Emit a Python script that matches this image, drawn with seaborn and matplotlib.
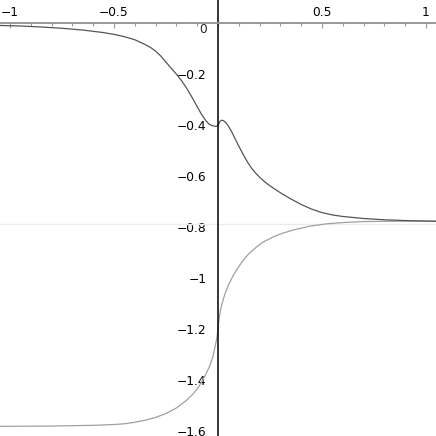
import matplotlib
matplotlib.use("Agg")
import matplotlib.pyplot as plt
import matplotlib.ticker as mticker
import seaborn as sns
import pandas as pd

# values
upper_x = [-1.048, -0.95, -0.85, -0.75, -0.65, -0.55, -0.5, -0.45, -0.4, -0.35,
           -0.325, -0.3, -0.275, -0.25, -0.225, -0.2, -0.175, -0.15, -0.125, -0.1,
           -0.08, -0.06, -0.045, -0.03, -0.015, -0.005, 0.0, 0.005, 0.01, 0.018,
           0.027, 0.038, 0.05, 0.065, 0.08, 0.1, 0.12, 0.14, 0.16, 0.18, 0.2,
           0.225, 0.25, 0.3, 0.35, 0.4, 0.45, 0.5, 0.55, 0.6, 0.7, 0.8, 0.9, 1.048]
upper_y = [-0.008, -0.010, -0.014, -0.019, -0.026, -0.036, -0.043, -0.052, -0.064,
           -0.083, -0.094, -0.109, -0.128, -0.152, -0.176, -0.199, -0.225, -0.255,
           -0.290, -0.327, -0.356, -0.380, -0.394, -0.401, -0.404, -0.404, -0.400,
           -0.392, -0.384, -0.380, -0.382, -0.390, -0.403, -0.424, -0.449, -0.482,
           -0.513, -0.542, -0.567, -0.587, -0.604, -0.622, -0.638, -0.665, -0.689,
           -0.711, -0.729, -0.743, -0.752, -0.758, -0.766, -0.771, -0.774, -0.777]

lower_x = [-1.048, -0.8, -0.6, -0.5, -0.45, -0.4, -0.35, -0.3, -0.25, -0.2, -0.15,
           -0.12, -0.1, -0.08, -0.06, -0.04, -0.025, -0.012, -0.004, 0.0, 0.005,
           0.012, 0.02, 0.034, 0.05, 0.074, 0.1, 0.122, 0.15, 0.186, 0.22, 0.266,
           0.31, 0.362, 0.442, 0.52, 0.6, 0.7, 0.8, 1.048]
lower_y = [-1.582, -1.581, -1.578, -1.575, -1.572, -1.566, -1.558, -1.547, -1.532,
           -1.510, -1.479, -1.455, -1.435, -1.410, -1.380, -1.345, -1.310, -1.262,
           -1.228, -1.195, -1.163, -1.125, -1.098, -1.060, -1.028, -0.988, -0.955,
           -0.929, -0.903, -0.877, -0.857, -0.838, -0.824, -0.811, -0.796, -0.787,
           -0.782, -0.778, -0.777, -0.776]

asymptote = -0.787

x_ticks = [-1, -0.5, 0.5, 1]
x_labels = ["\u22121", "\u22120.5", "0.5", "1"]
y_ticks = [-0.2, -0.4, -0.6, -0.8, -1, -1.2, -1.4, -1.6]
y_labels = ["\u22120.2", "\u22120.4", "\u22120.6", "\u22120.8", "\u22121",
            "\u22121.2", "\u22121.4", "\u22121.6"]

upper = pd.DataFrame({"x": upper_x, "y": upper_y})
lower = pd.DataFrame({"x": lower_x, "y": lower_y})

sns.set_style("white")
plt.rcParams["font.family"] = ["DejaVu Sans"]

fig = plt.figure(figsize=(4.36, 4.36), dpi=100)
ax = fig.add_axes([0, 0, 1, 1])

ax.axhline(asymptote, color="#ececec", lw=1.0, zorder=1)
sns.lineplot(data=lower, x="x", y="y", sort=False, color="#a0a0a0", lw=0.9, ax=ax)
sns.lineplot(data=upper, x="x", y="y", sort=False, color="#555555", lw=0.9, ax=ax)

ax.set_xlim(-1.048, 1.048)
ax.set_ylim(-1.62, 0.092)
ax.set_xlabel("")
ax.set_ylabel("")

# axes crossing at the origin
for side in ["bottom", "right"]:
    ax.spines[side].set_visible(False)
ax.spines["left"].set_position(("data", 0))
ax.spines["top"].set_position(("data", 0))
ax.spines["left"].set_color("black")
ax.spines["left"].set_linewidth(1.1)
ax.spines["top"].set_color("#999999")
ax.spines["top"].set_linewidth(1.4)

ax.xaxis.set_ticks_position("top")
ax.set_xticks(x_ticks, x_labels)
ax.xaxis.set_minor_locator(mticker.MultipleLocator(0.1))
ax.tick_params(axis="x", which="both", direction="in", colors="#999999",
               labelcolor="black", labelsize=8.8, pad=3)
ax.tick_params(axis="x", which="major", length=3.5, width=0.8)
ax.tick_params(axis="x", which="minor", length=2.5, width=0.8)

ax.set_yticks(y_ticks, y_labels)
ax.yaxis.set_minor_locator(mticker.MultipleLocator(0.05))
ax.tick_params(axis="y", which="both", direction="out", colors="black",
               labelsize=8.8, pad=5)
ax.tick_params(axis="y", which="major", length=3.5, width=0.8)
ax.tick_params(axis="y", which="minor", length=2.5, width=0.8)

ax.annotate("0", xy=(0, 0), xytext=(-8, -4.5), textcoords="offset points",
            ha="right", va="center", fontsize=8.8)

fig.savefig("out.png", dpi=100)
